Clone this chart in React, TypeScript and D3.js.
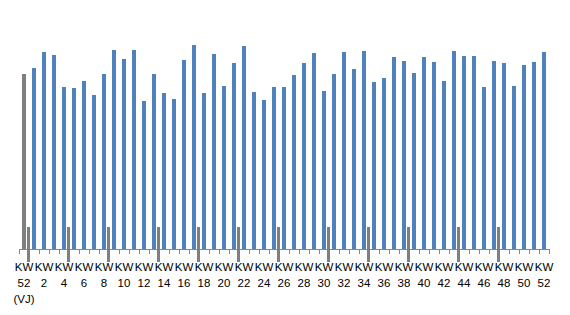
import React from "react";
import * as d3 from "d3";

const weeks: string[] = ["52", ...Array.from({ length: 52 }, (_, i) => String(i + 1))];
const values: number[] = [
  175, 181, 197, 194, 162, 161, 168, 154, 175, 199, 190, 199, 148, 175, 156, 150, 189, 204,
  156, 195, 163, 186, 203, 157, 149, 162, 162, 174, 186, 196, 158, 175, 197, 180, 198, 167,
  171, 192, 188, 176, 192, 187, 168, 198, 193, 193, 162, 188, 186, 163, 184, 187, 197,
];
// index of the last week of each month (marker drawn after this category)
const monthEnds: number[] = [0, 4, 8, 13, 17, 21, 25, 30, 34, 38, 43, 47];

const W = 570;
const H = 315;
const baseY = 249;

export default function App() {
  const x = d3.scaleBand<number>().domain(d3.range(weeks.length)).range([19, 549]);
  const y = d3.scaleLinear().domain([0, 210]).range([baseY, baseY - 210]);
  const bw = 4;
  const step = x.step();
  const font = "'Liberation Sans', Arial, sans-serif";
  return (
    <svg
      width={W}
      height={H}
      style={{ position: "absolute", left: 0, top: 0, background: "#fff" }}
      fontFamily={font}
    >
      {values.map((v, i) => {
        const cx = (x(i) as number) + step / 2;
        return (
          <rect
            key={"b" + i}
            x={cx - bw / 2}
            y={y(v)}
            width={bw}
            height={y(0) - y(v)}
            fill={i === 0 ? "#7f7f7f" : "#4f81bd"}
          />
        );
      })}
      <line x1={19} x2={549} y1={baseY + 0.5} y2={baseY + 0.5} stroke="#868686" strokeWidth={1} />
      {d3.range(weeks.length + 1).map((i) => {
        const tx = Math.round(19 + i * step) + 0.5;
        return <line key={"t" + i} x1={tx} x2={tx} y1={baseY} y2={baseY + 5} stroke="#868686" />;
      })}
      {monthEnds.map((m) => {
        const bx = (x(m) as number) + step;
        return <rect key={"m" + m} x={bx - 2} y={227} width={3} height={35} fill="#7f7f7f" />;
      })}
      {weeks.map((w, i) => {
        if (i % 2 !== 0) return null;
        const cx = (x(i) as number) + step / 2;
        return (
          <text key={"l" + i} x={cx} textAnchor="middle" fontSize={11.5} fill="#000">
            <tspan x={cx} y={271}>KW</tspan>
            <tspan x={cx} y={287}>{w}</tspan>
            {i === 0 ? <tspan x={cx} y={303}>(VJ)</tspan> : null}
          </text>
        );
      })}
    </svg>
  );
}
